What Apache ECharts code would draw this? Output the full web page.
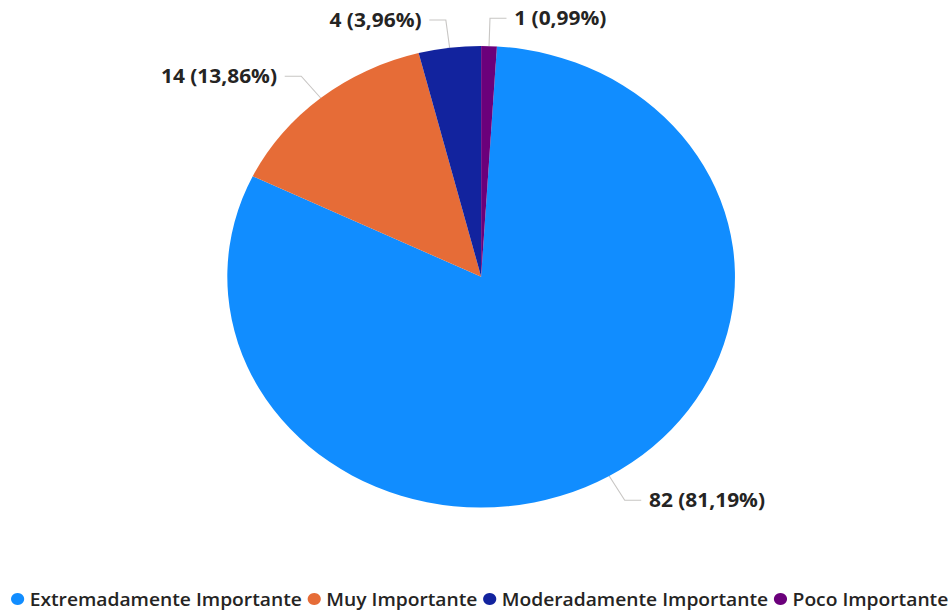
<!DOCTYPE html>
<html>
<head>
<meta charset="utf-8">
<script src="https://cdn.jsdelivr.net/npm/echarts@6/dist/echarts.min.js"></script>
<style>
html,body{margin:0;padding:0;background:#fff;overflow:hidden;}
#chart{width:862px;height:612px;transform:scaleX(1.1);transform-origin:0 0;}
</style>
</head>
<body>
<div id="chart"></div>
<script>
// Data
const categories = ['Extremadamente Importante', 'Muy Importante', 'Moderadamente Importante', 'Poco Importante'];
const values = [82, 14, 4, 1];
const colors = ['#118DFF', '#E66C37', '#12239E', '#6B007B'];

const chart = echarts.init(document.getElementById('chart'), null, {renderer: 'svg'});
const FONT = '"Open Sans", "Noto Sans", "DejaVu Sans", sans-serif';

chart.setOption({
  animation: false,
  color: colors,
  legend: {
    data: categories,
    left: 10,
    top: 590,
    width: 900,
    padding: 0,
    icon: 'circle',
    itemWidth: 12,
    itemHeight: 12,
    itemGap: 5,
    textStyle: {fontFamily: FONT, fontSize: 17.5, fontWeight: 600, color: '#252423'}
  },
  series: [{
    type: 'pie',
    center: [437.4, 276.75],
    radius: 230.75,
    startAngle: 86.436,
    clockwise: true,
    avoidLabelOverlap: true,
    data: categories.map((c, i) => ({name: c, value: values[i]})),
    itemStyle: {borderWidth: 0},
    label: {
      show: true,
      formatter: p => p.value + ' (' + p.percent.toFixed(2).replace('.', ',') + '%)',
      fontFamily: FONT,
      fontSize: 19,
      fontWeight: 700,
      color: '#252423',
      distanceToLabelLine: 7
    },
    labelLine: {
      show: true,
      length: 28,
      length2: 15,
      smooth: false,
      lineStyle: {color: '#c8c6c4', width: 1}
    },
    emphasis: {disabled: true}
  }]
});
</script>
</body>
</html>
